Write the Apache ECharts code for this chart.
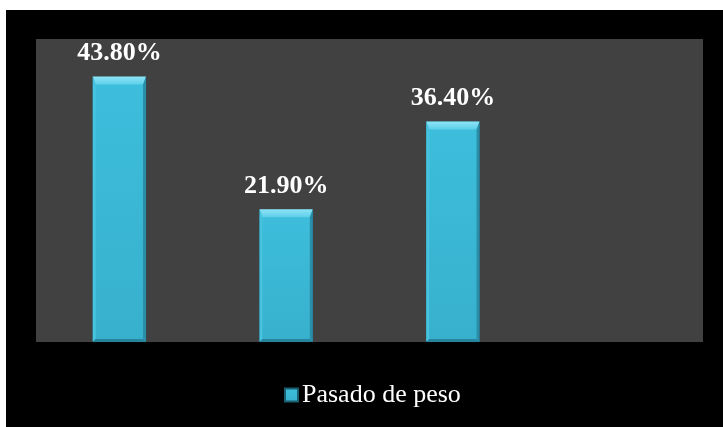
<!DOCTYPE html>
<html>
<head>
<meta charset="utf-8">
<script src="https://cdn.jsdelivr.net/npm/echarts@6/dist/echarts.min.js"></script>
<style>
  html, body { margin: 0; padding: 0; background: #ffffff; width: 723px; height: 427px; overflow: hidden; }
  #chart { position: absolute; left: 6px; top: 10px; width: 717px; height: 417px; }
  /* warm up the serif faces so the canvas text can use them */
  .warm { position: absolute; left: -9999px; top: 0; font-family: "Liberation Serif"; font-size: 26px; }
</style>
</head>
<body>
<span class="warm">Pasado de peso</span><span class="warm" style="font-weight:bold">43.80%</span>
<div id="chart"></div>
<script>
// Categories along the x axis (the fourth slot is left empty)
const categories = ['A', 'B', 'C', 'D'];
// Share of people who are overweight, in percent
const overweight = [43.8, 21.9, 36.4, null];
const seriesName = 'Pasado de peso';

const BAR_RATIO = 0.32;
const SERIF = 'Liberation Serif';

// Bevelled edges laid over each bar, positioned through the axis scales
function renderBevel(params, api) {
  const v = api.value(1);
  if (v == null || isNaN(v)) return null;
  const top = api.coord([api.value(0), v]);
  const base = api.coord([api.value(0), 0]);
  const w = api.size([1, 0])[0] * BAR_RATIO;
  const x0 = top[0] - w / 2, x1 = top[0] + w / 2;
  const y0 = top[1], y1 = base[1];
  const bt = 8, bs = 3, bb = 3;
  const poly = (pts, fill) => ({ type: 'polygon', shape: { points: pts }, style: { fill: fill }, silent: true });
  return {
    type: 'group',
    children: [
      poly([[x0, y0], [x1, y0], [x1 - bs, y0 + bt], [x0 + bs, y0 + bt]],
        new echarts.graphic.LinearGradient(0, 0, 0, 1, [
          { offset: 0, color: '#8fe3f5' },
          { offset: 1, color: '#5ccfea' }
        ])),
      poly([[x0, y0], [x0 + bs, y0 + bt], [x0 + bs, y1 - bb], [x0, y1]], '#47c3e0'),
      poly([[x1, y0], [x1, y1], [x1 - bs, y1 - bb], [x1 - bs, y0 + bt]], '#2a8ea8'),
      poly([[x0, y1], [x0 + bs, y1 - bb], [x1 - bs, y1 - bb], [x1, y1]], '#26849d')
    ]
  };
}

const option = {
  backgroundColor: '#000000',
  animation: false,
  grid: {
    left: 30, top: 29, width: 667, height: 303,
    show: true, backgroundColor: '#414141', borderWidth: 0
  },
  xAxis: {
    type: 'category',
    data: categories,
    show: false
  },
  yAxis: {
    type: 'value',
    min: 0, max: 50,
    show: false
  },
  legend: {
    left: 273, top: 367,
    icon: 'rect',
    itemWidth: 13, itemHeight: 13, itemGap: 10,
    textStyle: { color: '#ffffff', fontFamily: SERIF, fontWeight: 'normal', fontSize: 26, padding: [0, 0, 0, -1] },
    data: [seriesName]
  },
  series: [{
    name: seriesName,
    type: 'bar',
    data: overweight,
    barWidth: (BAR_RATIO * 100) + '%',
    itemStyle: {
      color: new echarts.graphic.LinearGradient(0, 0, 0, 1, [
        { offset: 0, color: '#3dbedc' },
        { offset: 1, color: '#37b0cd' }
      ]),
      borderColor: '#1a5f70',
      borderWidth: 0.8
    },
    label: {
      show: true,
      position: 'top',
      distance: 10,
      color: '#ffffff',
      fontFamily: SERIF,
      fontWeight: 'bold',
      fontSize: 26,
      formatter: p => p.value.toFixed(2) + '%'
    },
    z: 2
  }, {
    type: 'custom',
    data: overweight.map((v, i) => [i, v]),
    renderItem: renderBevel,
    silent: true,
    z: 3
  }]
};

const chart = echarts.init(document.getElementById('chart'));
chart.setOption(option);

// Redraw once the serif faces are ready, so no text is left in a fallback font
if (document.fonts && document.fonts.load) {
  Promise.all([
    document.fonts.load('26px "Liberation Serif"'),
    document.fonts.load('bold 26px "Liberation Serif"')
  ]).then(() => {
    chart.clear();
    chart.setOption(option);
  }).catch(() => {});
}
</script>
</body>
</html>
